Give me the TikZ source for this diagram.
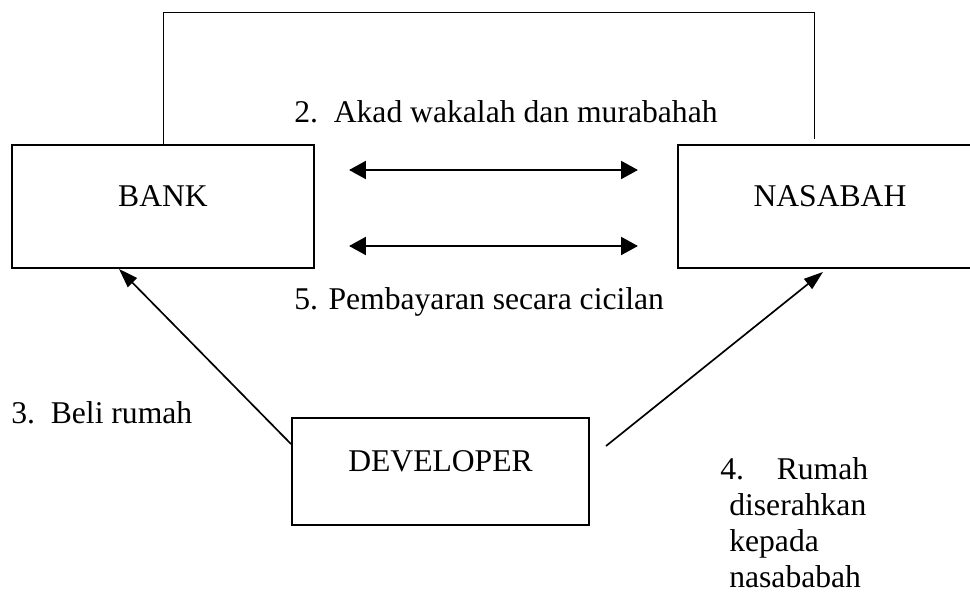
\documentclass[tikz,border=0pt]{standalone}
\usepackage{fontspec}
\setmainfont{Liberation Serif}
\usetikzlibrary{arrows.meta, positioning}

\begin{document}
\begin{tikzpicture}[
  every node/.style={font=\fontsize{22.5}{25.6}\selectfont},
  party/.style={draw, line width=1.4pt, inner sep=0pt, text height=0.4cm, text depth=0.4cm},
  step-label/.style={anchor=base west, inner sep=0pt},
  exchange/.style={{Triangle[length=0.42cm,width=0.44cm]}-{Triangle[length=0.42cm,width=0.44cm]}, line width=2pt},
  flow/.style={-{Triangle[length=0.48cm,width=0.32cm]}, line width=1.2pt}
]
\useasboundingbox (0,0) rectangle (24.25,-14.775);
\node[party, minimum width=7.55cm, minimum height=3.075cm] (bank) at (4.075,-5.1625) {BANK};
\node[party, minimum width=7.6cm, minimum height=3.075cm, right=9.05cm of bank] (nasabah) {NASABAH};
\node[party, minimum width=7.425cm, minimum height=2.675cm] (developer) at (11.0125,-11.7875) {DEVELOPER};
\coordinate (loop-top) at (20.35,-0.3);
\coordinate (loop-end) at (20.35,-3.475);
\draw[line width=0.7pt] (bank.north) |- (loop-top) -- (loop-end);
\node[step-label] (akad-label) at (7.35,-3.05) {2.\ \ Akad wakalah dan murabahah};
\draw[exchange] ([shift={(0.85cm,0.9125cm)}]bank.east) -- ([shift={(-0.975cm,0.9125cm)}]nasabah.west);
\draw[exchange] ([shift={(0.85cm,-0.9875cm)}]bank.east) -- ([shift={(-0.975cm,-0.9875cm)}]nasabah.west);
\node[step-label] (cicilan-label) at (7.35,-7.725) {5. Pembayaran secara cicilan};
\draw[flow] ([yshift=-0.675cm]developer.north west) -- ([xshift=2.7cm]bank.south west);
\draw[flow] ([shift={(0.4cm,-0.725cm)}]developer.north east) -- ([shift={(-0.175cm,-0.075cm)}]nasabah.south);
\node[step-label] (beli-label) at (0.275,-10.575) {3.\ \ Beli rumah};
\node[step-label, align=left] (rumah-label) at (18,-14.675)
  {4.\hspace{0.82cm}Rumah\\\hspace{0.225cm}diserahkan\\\hspace{0.225cm}kepada\\\hspace{0.225cm}nasababah};
\end{tikzpicture}
\end{document}
